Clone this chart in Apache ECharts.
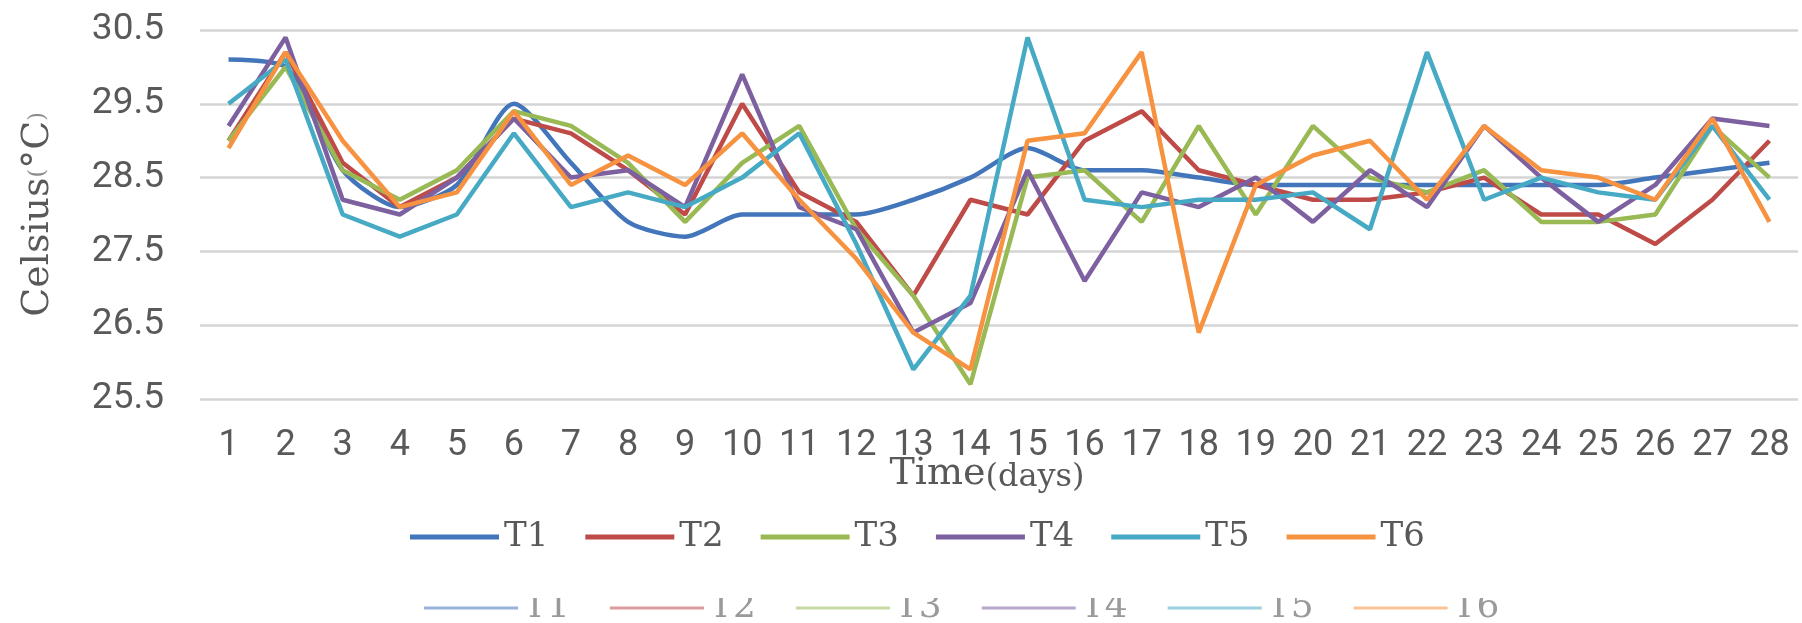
<!DOCTYPE html>
<html><head><meta charset="utf-8">
<script src="https://cdn.jsdelivr.net/npm/echarts@6/dist/echarts.min.js"></script>
<style>html,body{margin:0;padding:0;background:#fff}#c{width:1802px;height:623px}</style>
</head><body><div id="c"></div>
<script>
const days = ['1','2','3','4','5','6','7','8','9','10','11','12','13','14','15','16','17','18','19','20','21','22','23','24','25','26','27','28'];
const T1 = [30.1,30.0,28.6,28.1,28.4,29.5,28.7,27.9,27.7,28.0,28.0,28.0,28.2,28.5,28.9,28.6,28.6,28.5,28.4,28.4,28.4,28.4,28.4,28.4,28.4,28.5,28.6,28.7];
const T2 = [29.0,30.2,28.7,28.1,28.5,29.3,29.1,28.6,28.0,29.5,28.3,27.9,26.9,28.2,28.0,29.0,29.4,28.6,28.4,28.2,28.2,28.3,28.5,28.0,28.0,27.6,28.2,29.0];
const T3 = [29.0,30.0,28.6,28.2,28.6,29.4,29.2,28.7,27.9,28.7,29.2,27.8,26.9,25.7,28.5,28.6,27.9,29.2,28.0,29.2,28.5,28.3,28.6,27.9,27.9,28.0,29.2,28.5];
const T4 = [29.2,30.4,28.2,28.0,28.5,29.3,28.5,28.6,28.1,29.9,28.1,27.8,26.4,26.8,28.6,27.1,28.3,28.1,28.5,27.9,28.6,28.1,29.2,28.5,27.9,28.4,29.3,29.2];
const T5 = [29.5,30.1,28.0,27.7,28.0,29.1,28.1,28.3,28.1,28.5,29.1,27.6,25.9,26.9,30.4,28.2,28.1,28.2,28.2,28.3,27.8,30.2,28.2,28.5,28.3,28.2,29.2,28.2];
const T6 = [28.9,30.2,29.0,28.1,28.3,29.4,28.4,28.8,28.4,29.1,28.2,27.4,26.4,25.9,29.0,29.1,30.2,26.4,28.4,28.8,29.0,28.2,29.2,28.6,28.5,28.2,29.3,27.9];
const seriesNames = ['T1','T2','T3','T4','T5','T6'];
const seriesData = [T1,T2,T3,T4,T5,T6];
const colors = ['#4275BA','#BE4B48','#98B954','#7D60A0','#46AAC5','#F69240'];
const yMin = 25.5, yMax = 30.5, yStep = 0.5;
const yAxisTitle = 'Celsius';
const xAxisTitle = 'Time';

const chart = echarts.init(document.getElementById('c'), null, {renderer: 'canvas'});
const frac = v => (((v - yMin) % 1) + 1) % 1;
const isLabelTick = v => frac(v) < 1e-6 || Math.abs(frac(v) - 1) < 1e-6;

chart.setOption({
  animation: false,
  backgroundColor: '#ffffff',
  color: colors,
  grid: {left: 200, right: 4, top: 30, bottom: 224, containLabel: false},
  xAxis: {
    type: 'category', data: days, boundaryGap: true,
    axisLine: {show: false}, axisTick: {show: false},
    axisLabel: {interval: 0, color: '#595959', fontFamily: 'Roboto', fontSize: 36, margin: 29},
    name: '{a|' + xAxisTitle + '}{b|(days)}', nameLocation: 'middle', nameGap: 55, nameMoveOverlap: false,
    nameTextStyle: {padding: [0, 24, 0, 0], rich: {
      a: {fontFamily: 'DejaVu Serif', fontSize: 38, color: '#595959'},
      b: {fontFamily: 'DejaVu Serif', fontSize: 32, color: '#595959', padding: [8, 0, 0, 0]}
    }}
  },
  yAxis: {
    type: 'value', min: yMin, max: yMax, interval: yStep,
    axisLine: {show: false}, axisTick: {show: false},
    splitLine: {show: true, lineStyle: {color: ['#d4d4d4', 'rgba(0,0,0,0)'], width: 2.5}},
    axisLabel: {color: '#595959', fontFamily: 'Roboto', fontSize: 37, margin: 36,
      formatter: v => isLabelTick(v) ? v.toFixed(1) : ''},
    name: '{a|' + yAxisTitle + '}{b|(}{a|°C}{b|)}', nameLocation: 'middle', nameGap: 143, nameRotate: 90,
    nameMoveOverlap: false,
    nameTextStyle: {rich: {
      a: {fontFamily: 'DejaVu Serif', fontSize: 38, color: '#595959'},
      b: {fontFamily: 'DejaVu Serif', fontSize: 22, color: '#8a8a8a'}
    }}
  },
  legend: [{
    data: seriesNames, left: 405, top: 515, icon: 'rect', itemWidth: 89, itemHeight: 5, itemGap: 37,
    textStyle: {fontFamily: 'DejaVu Serif', fontSize: 34, color: '#595959'}
  }, {
    data: seriesNames, left: 419, top: 585, icon: 'rect', itemWidth: 94, itemHeight: 3, itemGap: 40,
    itemStyle: {opacity: 0.55},
    textStyle: {fontFamily: 'DejaVu Serif', fontSize: 36, color: '#9a9a9a'}
  }],
  graphic: [{type: 'rect', z: 100, shape: {x: 380, y: 562, width: 1120, height: 36}, style: {fill: '#ffffff'}}],
  series: seriesNames.map((n, i) => ({
    name: n, type: 'line', data: seriesData[i], showSymbol: false, symbol: 'none',
    smooth: i === 0 ? 0.25 : false, lineStyle: {width: 4.5, color: colors[i]}, itemStyle: {color: colors[i]}
  }))
});
</script></body></html>
